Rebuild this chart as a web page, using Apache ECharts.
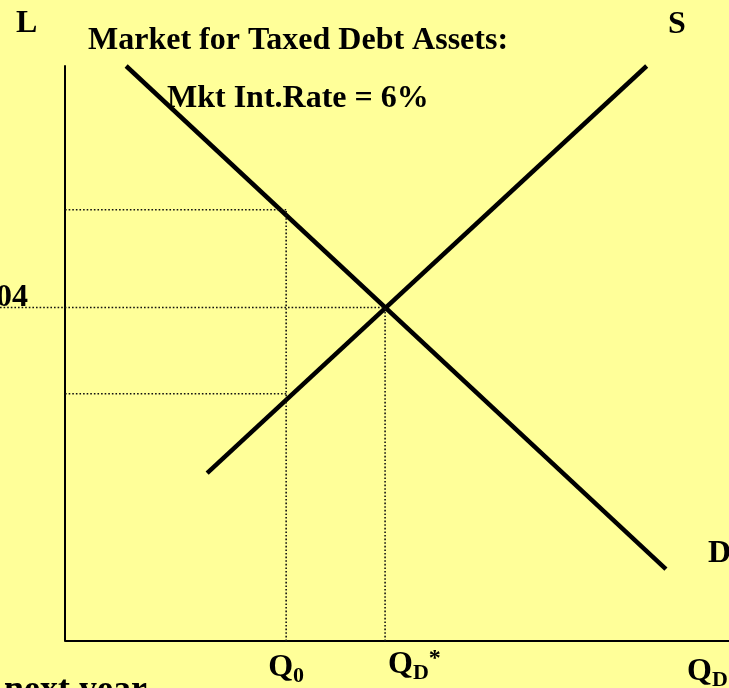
<!DOCTYPE html>
<html>
<head>
<meta charset="utf-8">
<script src="https://cdn.jsdelivr.net/npm/echarts@6/dist/echarts.min.js"></script>
<style>
  html, body { margin: 0; padding: 0; background: #FFFF99; }
  #chart { width: 729px; height: 688px; }
</style>
</head>
<body>
<div id="chart"></div>
<script>
// quantity on x (0-100), rate/price on y (0-100)
const demandLine = [[9.2, 100], [90.5, 12.5]];
const supplyLine = [[21.4, 29.2], [87.6, 100]];
const qZero = 33.3;       // Q0
const qStar = 48.2;       // QD*
const rateHigh = 75;
const rateEq = 58;
const rateLow = 43;
const xLeft = -9.8;       // room left of the price axis for the rate label

const font = '"Liberation Serif", "Times New Roman", serif';

// dotted guide segments
const guides = [
  [[0, rateHigh], [qZero, rateHigh]],
  [[xLeft, rateEq], [qStar, rateEq]],
  [[0, rateLow], [qZero, rateLow]],
  [[qZero, 0], [qZero, rateHigh]],
  [[qStar, 0], [qStar, rateEq]]
];

const chart = echarts.init(document.getElementById('chart'));

const series = [
  // quantity axis baseline, starts at the price axis
  {
    type: 'line', data: [[0, 0], [100, 0]], symbol: 'none', silent: true, clip: false,
    lineStyle: { color: '#000', width: 2 }
  },
  {
    type: 'line', data: demandLine, symbol: 'none', silent: true,
    lineStyle: { color: '#000', width: 4.5 }
  },
  {
    type: 'line', data: supplyLine, symbol: 'none', silent: true,
    lineStyle: { color: '#000', width: 4.5 }
  }
];
guides.forEach(seg => {
  series.push({
    type: 'line', data: seg, symbol: 'none', silent: true, clip: false,
    lineStyle: { color: '#111', width: 1.6, type: [1.6, 2] }
  });
});

const rich = {
  q: { fontFamily: font, fontWeight: 'bold', fontSize: 32, color: '#000' },
  sub: { fontFamily: font, fontWeight: 'bold', fontSize: 22, color: '#000', padding: [16, 0, 0, 0] },
  sup: { fontFamily: font, fontWeight: 'bold', fontSize: 24, color: '#000', padding: [0, 0, 12, 0] }
};
// labels tied to the data points
series.push({
  type: 'scatter', symbolSize: 0, silent: true, clip: false,
  itemStyle: { opacity: 1 },
  data: [
    { value: [qZero, 0], label: { formatter: '{q|Q}{sub|0}', position: [-18, 8] } },
    { value: [qStar, 0], label: { formatter: '{q|Q}{sub|D}{sup|*}', position: [3, 5] } },
    { value: [0, rateEq], label: { formatter: '{q|04}', position: [-69, -26] } }
  ],
  label: { show: true, color: '#000', opacity: 1, align: 'left', verticalAlign: 'top', rich: rich }
});

const txt = (x, y, text, size) => ({
  type: 'text', left: x, top: y,
  style: { text: text, fontFamily: font, fontWeight: 'bold', fontSize: size || 32, fill: '#000' }
});

chart.setOption({
  backgroundColor: '#FFFF99',
  animation: false,
  grid: { left: 0, right: 0, top: 66, bottom: 47 },
  xAxis: {
    type: 'value', min: xLeft, max: 100,
    axisLine: { show: false },
    axisTick: { show: false }, axisLabel: { show: false }, splitLine: { show: false }
  },
  yAxis: {
    type: 'value', min: 0, max: 100,
    axisLine: { show: true, onZero: true, lineStyle: { color: '#000', width: 2 } },
    axisTick: { show: false }, axisLabel: { show: false }, splitLine: { show: false }
  },
  series: series,
  graphic: [
    txt(16, 8, 'L'),
    txt(88, 25, 'Market for Taxed Debt Assets:'),
    txt(167, 83, 'Mkt Int.Rate = 6%'),
    txt(668, 9, 'S'),
    txt(708, 538, 'D'),
    {
      type: 'text', left: 687, top: 656,
      style: { text: '{q|Q}{sub|D}', rich: rich }
    },
    {
      type: 'text', x: 147, y: 673,
      style: { text: 'next year', align: 'right', fontFamily: font, fontWeight: 'bold', fontSize: 36, fill: '#000' }
    }
  ]
});
</script>
</body>
</html>
